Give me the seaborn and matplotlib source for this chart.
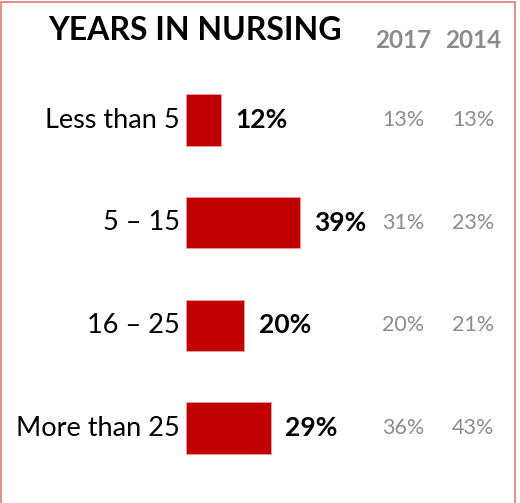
import matplotlib
matplotlib.use("Agg")
import matplotlib.pyplot as plt
import matplotlib.transforms as mtransforms
from matplotlib.patches import Rectangle
import seaborn as sns
import pandas as pd

sns.set_theme(style="white")
plt.rcParams["font.family"] = ["Lato", "DejaVu Sans"]

# Survey results: share of respondents by years in nursing
categories = ["Less than 5", "5 \u2013 15", "16 \u2013 25", "More than 25"]
pct_current = [12, 39, 20, 29]
pct_2017 = [13, 31, 20, 36]
pct_2014 = [13, 23, 21, 43]
year_labels = ["2017", "2014"]

df = pd.DataFrame({"years": categories, "pct": pct_current})

W, H = 520, 503
fig = plt.figure(figsize=(W / 100, H / 100), dpi=100)
# axes starts where the bars begin; full height
ax_left = 186 / W
ax = fig.add_axes([ax_left, 0, 1 - ax_left, 1])

bar_red = "#C00000"
sns.barplot(data=df, x="pct", y="years", orient="h", color=bar_red,
            width=0.5, saturation=1, ax=ax, edgecolor="#E8A0A0", linewidth=0.6)

px_per_pct = 2.92
ax.set_xlim(0, (W - 186) / px_per_pct)
row_px = 102.7
ax.set_ylim((H - 120) / row_px, -120 / row_px)
ax.axis("off")

# bold value labels just past the bar ends
for i, v in enumerate(pct_current):
    ax.text(v + 5.0, i, f"{v}%", ha="left", va="center",
            fontsize=19, fontweight="bold", color="black")

# category names to the left of the bars
for i, c in enumerate(categories):
    ax.text(-2.2, i, c, ha="right", va="center", fontsize=19.5,
            color="black", clip_on=False)

# previous-year comparison columns
blend = mtransforms.blended_transform_factory(fig.transFigure, ax.transData)
col_x = [403 / W, 473 / W]
for xs, vals in zip(col_x, [pct_2017, pct_2014]):
    for i, v in enumerate(vals):
        ax.text(xs, i, f"{v}%", transform=blend, ha="center", va="center",
                fontsize=15.5, color="#8C8C8C")

for xs, lab in zip(col_x, year_labels):
    fig.text(xs, 1 - 41 / H, lab, ha="center", va="center", fontsize=17.5,
             fontweight="bold", color="#8C8C8C")

fig.text(48 / W, 1 - 31 / H, "YEARS IN NURSING", ha="left", va="center",
         fontsize=23, fontweight="bold", color="black")

# thin frame around the panel
fig.patches.append(Rectangle((1 / W, -0.05), (W - 6) / W, 1.05 - 1.5 / H,
                             transform=fig.transFigure, fill=False,
                             edgecolor="#E07A7A", linewidth=1.2))

fig.savefig("out.png", dpi=100, facecolor="white")
